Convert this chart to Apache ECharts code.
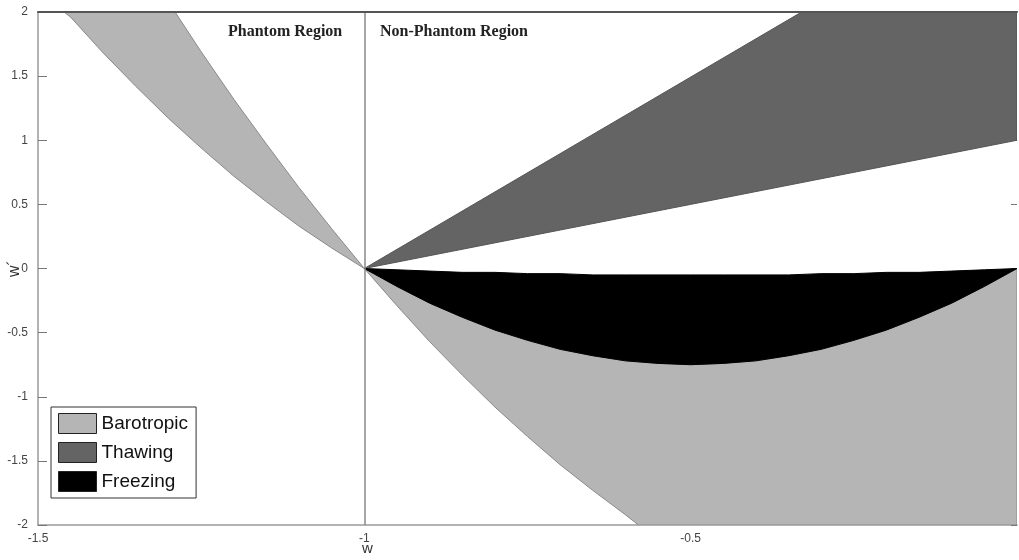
<!DOCTYPE html>
<html>
<head>
<meta charset="utf-8">
<script src="https://cdn.jsdelivr.net/npm/echarts@6/dist/echarts.min.js"></script>
<style>
  html, body { margin: 0; padding: 0; background: #fff; }
  #chart { width: 1019px; height: 560px; }
</style>
</head>
<body>
<div id="chart"></div>
<script>
// w values along the non-phantom side
const wNon = [-1, -0.95, -0.9, -0.85, -0.8, -0.75, -0.7, -0.65, -0.6, -0.55, -0.5,
  -0.45, -0.4, -0.35, -0.3, -0.25, -0.2, -0.15, -0.1, -0.05, 0];
// freezing band: upper and lower edge
const freezeTop = [0, -0.01, -0.02, -0.03, -0.03, -0.04, -0.04, -0.05, -0.05, -0.05, -0.05,
  -0.05, -0.05, -0.05, -0.04, -0.04, -0.03, -0.03, -0.02, -0.01, 0];
const freezeBottom = [0, -0.14, -0.27, -0.38, -0.48, -0.56, -0.63, -0.68, -0.72, -0.74, -0.75,
  -0.74, -0.72, -0.68, -0.63, -0.56, -0.48, -0.38, -0.27, -0.14, 0];
// barotropic lower edge, non-phantom side
const baroLowW = [-1, -0.95, -0.9, -0.85, -0.8, -0.75, -0.7, -0.65, -0.6, -0.58, 0];
const baroLow = [0, -0.29, -0.57, -0.83, -1.08, -1.31, -1.53, -1.73, -1.92, -2, -2];
// barotropic, phantom side: inner and outer edges
const phInnerW = [-1, -1.05, -1.1, -1.15, -1.2, -1.25, -1.29];
const phInner = [0, 0.31, 0.63, 0.97, 1.32, 1.69, 2];
const phOuterW = [-1, -1.05, -1.1, -1.15, -1.2, -1.25, -1.3, -1.35, -1.4, -1.45, -1.46];
const phOuter = [0, 0.16, 0.33, 0.52, 0.72, 0.94, 1.17, 1.42, 1.68, 1.96, 2];
// thawing band
const thawUpW = [-1, -0.33, 0];
const thawUp = [0, 2, 2];
const thawLowW = [-1, 0];
const thawLow = [0, 1];

const xTicks = [-1.5, -1, -0.5];

function zip(xs, ys) { return xs.map((x, i) => [x, ys[i]]); }
function band(upper, lower) { return upper.concat(lower.slice().reverse()); }

const baroPolys = [
  band(zip(phInnerW, phInner), zip(phOuterW, phOuter)),
  band(zip(wNon, freezeBottom), zip(baroLowW, baroLow))
];
const thawPolys = [band(zip(thawUpW, thawUp), zip(thawLowW, thawLow))];
const freezePolys = [band(zip(wNon, freezeTop), zip(wNon, freezeBottom))];

function polySeries(name, polys, color, stroke) {
  return {
    name: name,
    type: 'custom',
    clip: true,
    data: [[-1, 0]],
    itemStyle: { color: color },
    renderItem: function (params, api) {
      return {
        type: 'group',
        children: polys.map(poly => ({
          type: 'polygon',
          shape: { points: poly.map(p => api.coord(p)) },
          style: { fill: color, stroke: stroke, lineWidth: 1 }
        }))
      };
    }
  };
}

const chart = echarts.init(document.getElementById('chart'));

const option = {
  animation: false,
  backgroundColor: '#fff',
  textStyle: { fontFamily: 'Liberation Sans, Arial, sans-serif' },
  grid: { left: 38, right: 2, top: 12, bottom: 35, containLabel: false, outerBoundsMode: 'none' },
  legend: {
    orient: 'vertical',
    left: 51,
    top: 407,
    icon: 'rect',
    itemWidth: 38,
    itemHeight: 20,
    itemGap: 8,
    padding: [6, 8, 6, 7],
    borderColor: '#333',
    borderWidth: 1,
    backgroundColor: '#fff',
    selectedMode: false,
    itemStyle: { borderColor: '#222', borderWidth: 1 },
    textStyle: { fontSize: 19, color: '#111', fontFamily: 'Liberation Sans, Arial, sans-serif' },
    data: ['Barotropic', 'Thawing', 'Freezing']
  },
  xAxis: [
    {
      type: 'value',
      min: -1.5,
      max: 0,
      interval: 0.5,
      axisLine: { onZero: false, lineStyle: { color: '#999', width: 1.5 } },
      axisTick: { show: false },
      splitLine: { show: false },
      axisLabel: {
        color: '#444',
        fontSize: 12,
        margin: 8,
        formatter: v => (xTicks.indexOf(v) >= 0 ? String(v) : '')
      }
    },
    {
      type: 'value',
      position: 'top',
      min: -1.5,
      max: 0,
      z: 10,
      axisLine: { show: true, onZero: false, lineStyle: { color: '#555', width: 2 } },
      axisTick: { show: false },
      axisLabel: { show: false },
      splitLine: { show: false }
    }
  ],
  yAxis: [
    {
      type: 'value',
      min: -2,
      max: 2,
      interval: 0.5,
      name: 'w\u00B4',
      nameLocation: 'middle',
      nameGap: 15,
      nameRotate: 90,
      nameMoveOverlap: false,
      nameTextStyle: { fontSize: 16, color: '#333' },
      axisLine: { show: true, onZero: false, lineStyle: { color: '#999', width: 1.5 } },
      axisTick: { show: true, inside: true, length: 9, lineStyle: { color: '#777' } },
      splitLine: { show: false },
      axisLabel: { color: '#444', fontSize: 12, margin: 10 }
    },
    {
      type: 'value',
      position: 'right',
      min: -2,
      max: 2,
      interval: 0.5,
      axisLine: { show: false, onZero: false },
      axisTick: { show: true, inside: true, length: 6, lineStyle: { color: '#777' } },
      axisLabel: { show: false },
      splitLine: { show: false }
    }
  ],
  graphic: [
    {
      type: 'text', left: 362, top: 541,
      style: { text: 'w', font: '15px Liberation Sans', fill: '#333' }
    },
    {
      type: 'text', left: 228, top: 24,
      style: { text: 'Phantom Region', font: 'bold 16px Liberation Serif', fill: '#222' }
    },
    {
      type: 'text', left: 380, top: 24,
      style: { text: 'Non-Phantom Region', font: 'bold 16px Liberation Serif', fill: '#222' }
    }
  ],
  series: [
    polySeries('Barotropic', baroPolys, '#b5b5b5', '#8a8a8a'),
    polySeries('Thawing', thawPolys, '#646464', '#555'),
    polySeries('Freezing', freezePolys, '#000', '#000'),
    {
      name: 'divider',
      type: 'line',
      data: [],
      markLine: {
        silent: true,
        symbol: 'none',
        label: { show: false },
        lineStyle: { color: '#888', width: 1.5, type: 'solid' },
        data: [{ xAxis: -1 }]
      }
    }
  ]
};

chart.setOption(option);
</script>
</body>
</html>
